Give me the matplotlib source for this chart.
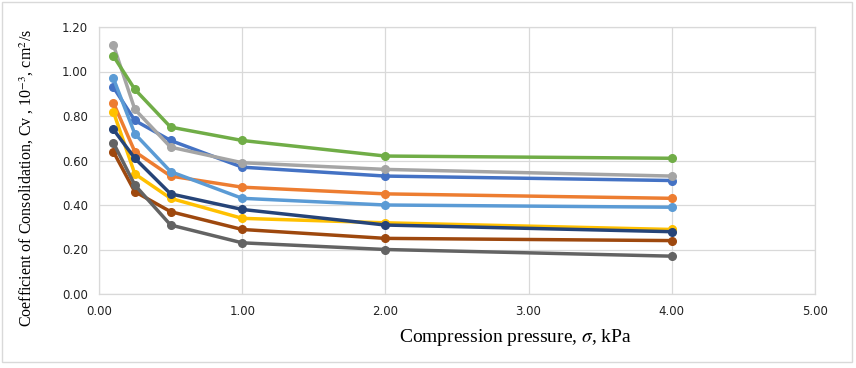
import matplotlib
matplotlib.use("Agg")
import matplotlib.pyplot as plt
from matplotlib.patches import Rectangle

plt.rcParams["mathtext.fontset"] = "stix"

# Compression pressure (kPa)
pressure = [0.1, 0.25, 0.5, 1.0, 2.0, 4.0]

# Cv series (10^-3 cm2/s), Excel default colour order
cv_blue = [0.93, 0.78, 0.69, 0.57, 0.53, 0.51]
cv_orange = [0.86, 0.64, 0.53, 0.48, 0.45, 0.43]
cv_gray = [1.12, 0.83, 0.66, 0.59, 0.56, 0.53]
cv_yellow = [0.82, 0.54, 0.43, 0.34, 0.32, 0.29]
cv_lightblue = [0.97, 0.72, 0.55, 0.43, 0.40, 0.39]
cv_green = [1.07, 0.92, 0.75, 0.69, 0.62, 0.61]
cv_darkblue = [0.74, 0.61, 0.45, 0.38, 0.31, 0.28]
cv_brown = [0.64, 0.46, 0.37, 0.29, 0.25, 0.24]
cv_darkgray = [0.68, 0.49, 0.31, 0.23, 0.20, 0.17]

series = [
    (cv_blue, "#4472C4"),
    (cv_orange, "#ED7D31"),
    (cv_gray, "#A5A5A5"),
    (cv_yellow, "#FFC000"),
    (cv_lightblue, "#5B9BD5"),
    (cv_green, "#70AD47"),
    (cv_darkblue, "#264478"),
    (cv_brown, "#9E480E"),
    (cv_darkgray, "#636363"),
]

xticks = [0, 1, 2, 3, 4, 5]
yticks = [0.0, 0.2, 0.4, 0.6, 0.8, 1.0, 1.2]

fig = plt.figure(figsize=(8.56, 3.68), dpi=100)
ax = fig.add_axes([99 / 856, 1 - 294 / 368, 716 / 856, 267 / 368])

for vals, col in series:
    ax.plot(pressure, vals, color=col, linewidth=2.5, marker="o",
            markersize=5.5, solid_capstyle="round")

ax.set_xlim(0, 5)
ax.set_ylim(0, 1.2)
ax.set_xticks(xticks)
ax.set_yticks(yticks)
ax.set_xticklabels([f"{v:.2f}" for v in xticks])
ax.set_yticklabels([f"{v:.2f}" for v in yticks])
ax.tick_params(length=0, labelsize=8.5, colors="#222222", pad=8)
ax.grid(True, color="#d9d9d9", linewidth=0.9)
ax.set_axisbelow(True)
for s in ax.spines.values():
    s.set_color("#d9d9d9")
    s.set_linewidth(0.9)

ax.set_xlabel(r"Compression pressure, $\sigma$, kPa", family="Liberation Serif",
              fontsize=14)
ax.xaxis.set_label_coords(0.582, -0.125)
ax.set_ylabel(r"Coefficient of Consolidation, Cv , 10$^{-3}$, cm$^{2}$/s",
              family="Liberation Serif", fontsize=11.5)
ax.yaxis.set_label_coords(-0.088, 0.434)

fig.patches.append(Rectangle((0.002, 0.015), 0.993, 0.98, transform=fig.transFigure,
                             fill=False, edgecolor="#d9d9d9", linewidth=1))

fig.savefig("out.png", dpi=100)
